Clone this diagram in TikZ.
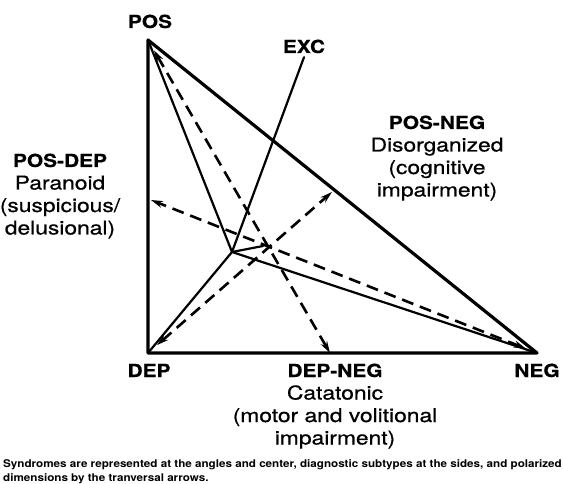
\documentclass[tikz,border=0pt]{standalone}
\usepackage{fontspec}
\usetikzlibrary{arrows.meta,positioning}
\newfontfamily\lblfont[FakeStretch=1.2,FakeBold=0.6]{TeX Gyre Heros}
\newfontfamily\keyfont[FakeStretch=1.16,FakeBold=0.5]{TeX Gyre Heros}
\newfontfamily\capfont[FakeStretch=1.1]{TeX Gyre Heros}
\tikzset{>/.tip={Stealth[length=12pt,width=7pt]}}

\begin{document}
\begin{tikzpicture}[x=1pt,y=1pt,node distance=22.5pt,on grid,
    txt/.style={inner sep=0pt,text height=14pt,text depth=4pt,font={\lblfont\fontsize{19}{22}\selectfont}},
    key/.style={txt,font={\keyfont\bfseries\fontsize{18}{22}\selectfont}},
    note/.style={inner sep=0pt,anchor=base west,font={\capfont\bfseries\fontsize{10.6}{15}\selectfont}},
    side/.style={line width=3.2pt,line join=round,line cap=round},
    spoke/.style={line width=2.2pt,line cap=round},
    axis/.style={<->,line width=2.6pt,dash pattern=on 12pt off 7pt,shorten <=12pt}]
  \useasboundingbox (0,0) rectangle (563,483);
  % corners
  \coordinate (pos) at (148,443);
  \coordinate (dep) at (148,130);
  \coordinate (neg) at (537,130);
  \coordinate (ctr) at (232,231);
  \coordinate (stub) at (263,237);
  % ends of the arrows on the sides
  \coordinate (dn) at (330,130);
  \coordinate (pn) at (332,291);
  \coordinate (pd) at (151,283);

  \node[key] (poslbl) at (150,460) {POS};
  \node[key] (exclbl) at (304,435) {EXC};
  \node[key] (posneg) at (437,359) {POS-NEG};
  \node[txt] (disorg) [below=of posneg] {Disorganized};
  \node[txt] (cogn) [below=of disorg] {(cognitive};
  \node[txt] (impcog) [below=of cogn] {impairment)};
  \node[key] (posdep) at (60,321) {POS-DEP};
  \node[txt] (paran) [below=of posdep] {Paranoid};
  \node[txt] (susp) [below=of paran] {(suspicious/};
  \node[txt] (delus) [below=of susp] {delusional)};
  \node[key] (deplbl) at (149,111) {DEP};
  \node[key] (depneg) at (335,111) {DEP-NEG};
  \node[key] (neglbl) at (537,111) {NEG};
  \node[txt] (catat) [below=of depneg] {Catatonic};
  \node[txt] (motor) [below=of catat] {(motor and volitional};
  \node[txt] (impmot) [below=of motor] {impairment)};
  \node[note] (capa) at (3,16) {Syndromes are represented at the angles and center, diagnostic subtypes at the sides, and polarized};
  \node[note] (capb) at (3,2) {dimensions by the tranversal arrows.};

  \draw[side] (pos) -- (dep) -- (neg) -- cycle;
  \draw[spoke] (pos) -- (ctr) -- (neg);
  \draw[spoke] (dep) -- (ctr) -- (stub);
  \draw[spoke] (exclbl.south) -- (ctr);
  \draw[axis] (pos) -- (dn);
  \draw[axis] (dep) -- (pn);
  \draw[axis] (neg) -- (pd);
\end{tikzpicture}
\end{document}
